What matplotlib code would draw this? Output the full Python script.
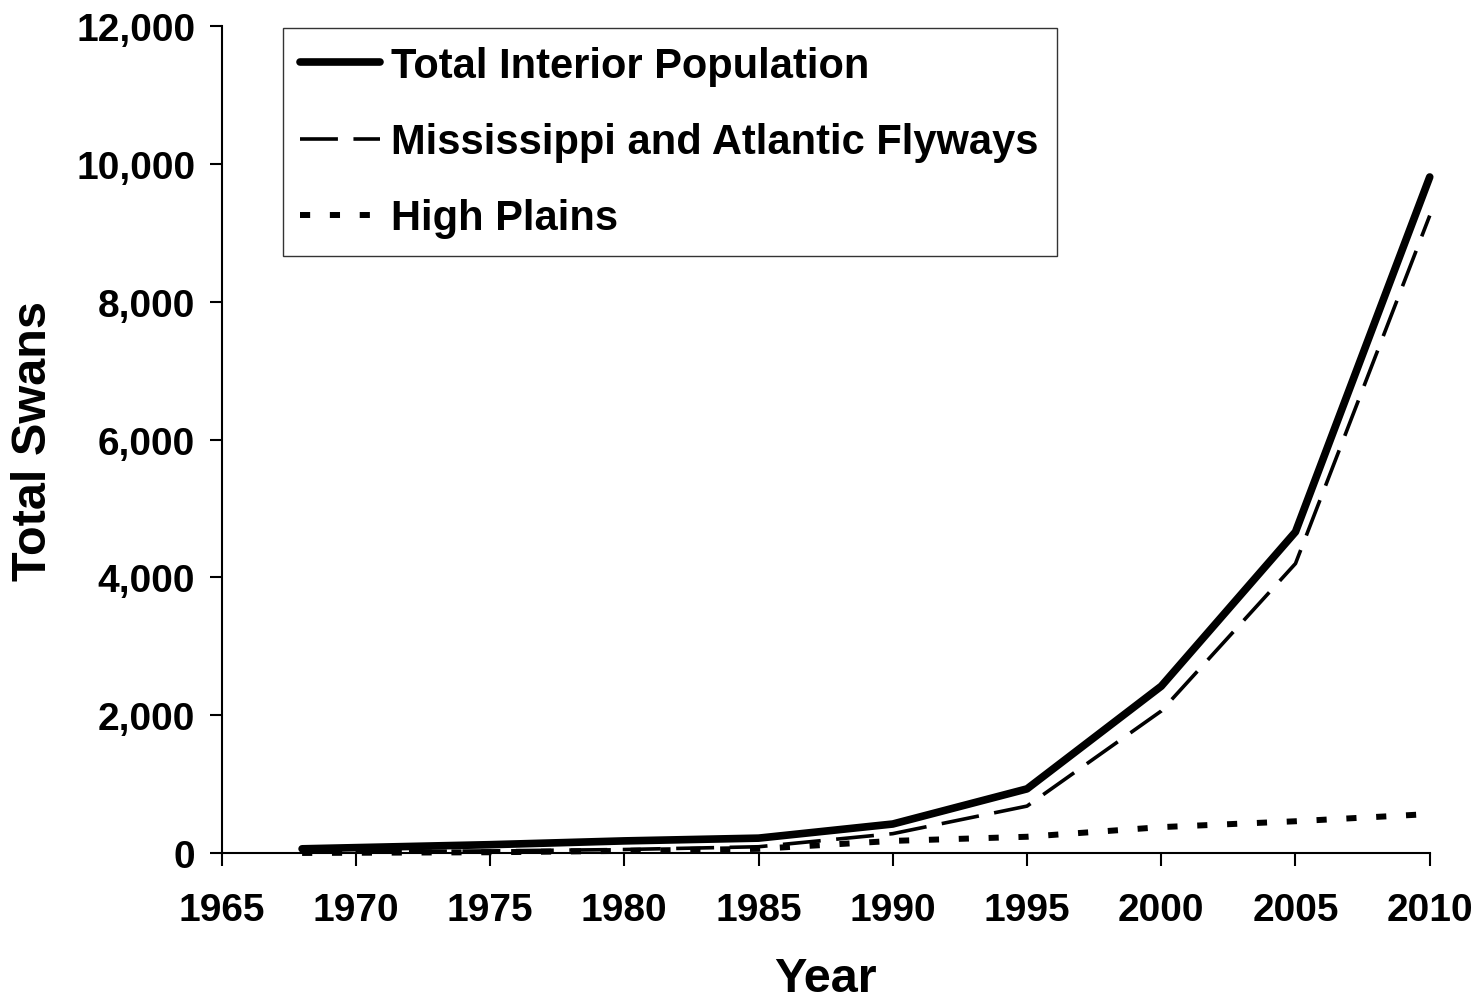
import numpy as np
import matplotlib.pyplot as plt

plt.rcParams['font.family'] = ['Liberation Sans', 'DejaVu Sans']
plt.rcParams['font.weight'] = 'bold'

years = [1968, 1975, 1980, 1985, 1990, 1995, 2000, 2005, 2010]
total = [60, 120, 175, 215, 420, 930, 2420, 4660, 9810]
miss_atl = [10, 30, 50, 90, 280, 680, 2060, 4200, 9250]
high_plains = [0, 10, 30, 60, 175, 235, 375, 460, 565]

fig = plt.figure(figsize=(14.77, 10.03), dpi=100)
ax = fig.add_axes([0.150, 0.1486, 0.818, 0.8244])

ax.plot(years, total, color='black', lw=5.5, solid_capstyle='round',
        label='Total Interior Population')
ax.plot(years, miss_atl, color='black', lw=2.6, dashes=(10.5, 4.3),
        label='Mississippi and Atlantic Flyways')
ax.plot(years, high_plains, color='black', lw=4.3, dashes=(1.7, 3.3),
        label='High Plains')

ax.set_xlim(1965, 2010)
ax.set_ylim(0, 12000)
ax.set_xticks(np.arange(1965, 2011, 5))
ax.set_yticks(np.arange(0, 12001, 2000))
ax.set_yticklabels(['{:,}'.format(v) for v in range(0, 12001, 2000)])
ax.tick_params(axis='both', labelsize=28, width=1.5, length=9)
ax.tick_params(axis='y', pad=10)
ax.tick_params(axis='x', pad=19)
for s in ['top', 'right']:
    ax.spines[s].set_visible(False)
for s in ['left', 'bottom']:
    ax.spines[s].set_linewidth(1.5)
for ln in ax.get_lines():
    ln.set_clip_on(False)

ax.set_xlabel('Year', fontsize=35, fontweight='bold', labelpad=20)
ax.set_ylabel('Total Swans', fontsize=35, fontweight='bold')
ax.yaxis.set_label_coords(-0.137, 0.5)

leg = ax.legend(loc='upper left', bbox_to_anchor=(0.0505, 0.9976), fontsize=30,
                frameon=True, fancybox=False, edgecolor='black',
                handlelength=1.92, handletextpad=0.26, labelspacing=0.87,
                borderpad=0.43, borderaxespad=0)
leg.get_frame().set_linewidth(1)
for t in leg.get_texts():
    t.set_fontweight('bold')

fig.savefig('out.png', dpi=100)
